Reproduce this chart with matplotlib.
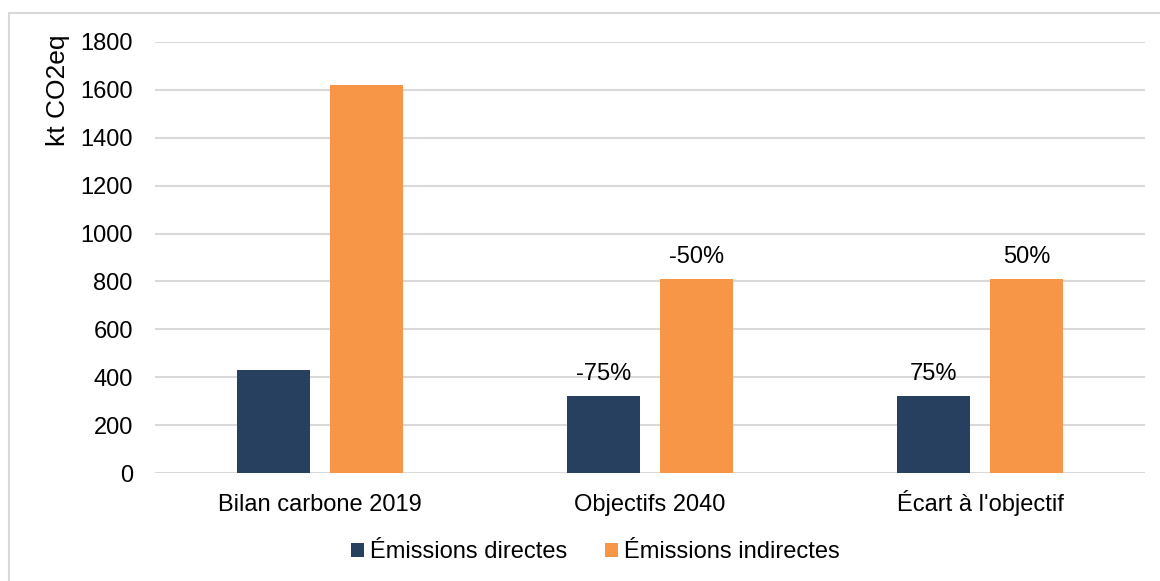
import numpy as np
import matplotlib.pyplot as plt
from matplotlib.patches import Rectangle

# data
categories = ["Bilan carbone 2019", "Objectifs 2040", "Écart à l'objectif"]
directes = [430, 320, 320]
indirectes = [1620, 810, 810]
labels_directes = ["", "-75%", "75%"]
labels_indirectes = ["", "-50%", "50%"]

NAVY = "#274060"
ORANGE = "#F79646"
GRID = "#D9D9D9"
FS = 17

plt.rcParams["font.family"] = ["Liberation Sans", "DejaVu Sans"]

W, H = 1160, 581
fig = plt.figure(figsize=(W / 100, H / 100), dpi=100)
ax = fig.add_axes([155 / W, 1 - 473 / H, (1145 - 155) / W, (473 - 42) / H])

x = np.arange(len(categories))
bw = 0.222
off = 0.142
b1 = ax.bar(x - off, directes, bw, color=NAVY, label="Émissions directes", zorder=3)
b2 = ax.bar(x + off, indirectes, bw, color=ORANGE, label="Émissions indirectes", zorder=3)

for bars, labs in ((b1, labels_directes), (b2, labels_indirectes)):
    for rect, lab in zip(bars, labs):
        if lab:
            ax.annotate(lab, (rect.get_x() + rect.get_width() / 2, rect.get_height()),
                        xytext=(0, 8), textcoords="offset points",
                        ha="center", va="bottom", fontsize=FS, color="#000000")

ax.set_xlim(-0.5, 2.5)
ax.set_ylim(0, 1800)
ax.set_yticks(range(0, 1801, 200))
ax.set_xticks(x)
ax.set_xticklabels(categories)
for lab in ax.get_xticklabels():
    lab.set_verticalalignment("baseline")
ax.yaxis.grid(True, color=GRID, linewidth=1.5, zorder=0)
ax.set_axisbelow(True)
for s in ax.spines.values():
    s.set_visible(False)
ax.tick_params(axis="both", length=0, labelsize=FS, colors="#000000")
ax.tick_params(axis="x", pad=27.5)
ax.tick_params(axis="y", pad=16)

fig.text(58 / W, 1 - 90 / H, "kt CO2eq", rotation=90, ha="center", va="center", fontsize=19)

fig.legend(handles=[b1, b2], loc="center", bbox_to_anchor=(595 / W, 1 - 552 / H),
           ncol=2, frameon=False, fontsize=FS, handlelength=0.55, handleheight=0.55,
           handletextpad=0.25, columnspacing=1.6)

# outer border
fig.patches.append(Rectangle((8.5 / W, -0.01), 1.02, 1 - 13 / H + 0.01, transform=fig.transFigure,
                             fill=False, edgecolor=GRID, linewidth=1.5))

fig.savefig("out.png", dpi=100)
